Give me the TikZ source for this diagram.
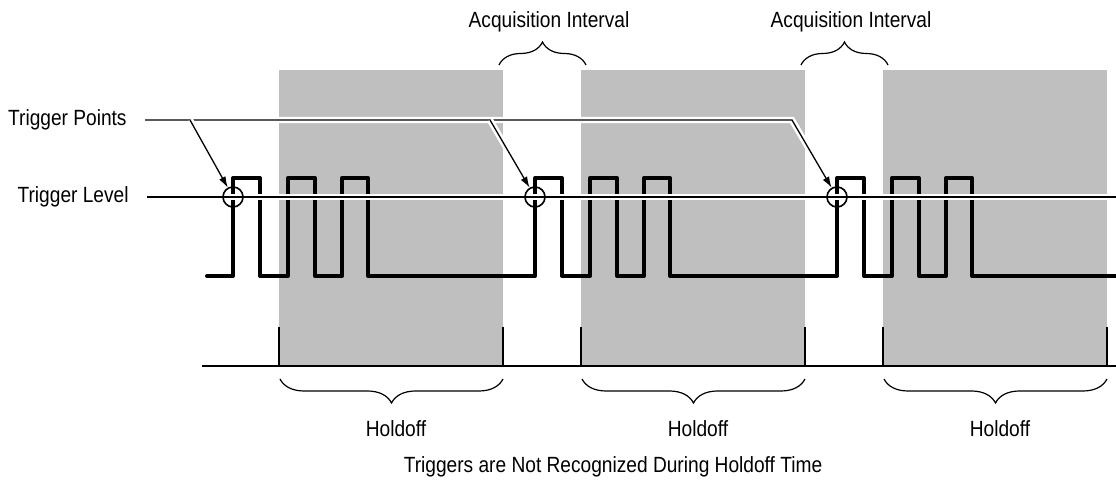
\documentclass[tikz,border=0pt]{standalone}
\usepackage{fontspec}
\setmainfont{Liberation Sans}[FakeStretch=0.87]
\usetikzlibrary{arrows.meta,decorations.pathreplacing}
\definecolor{holdgray}{RGB}{191,191,191}

\begin{document}
\begin{tikzpicture}[
  x=0.5pt, y=-0.5pt,
  font=\fontsize{11}{13}\selectfont,
  wave/.style={line width=2pt, line join=round, line cap=round},
  halo/.style={line width=#1, preaction={draw=white, line width=3.2pt, -, shorten >=2.5pt}},
  halo/.default=0.65pt,
  arr/.style={-{Latex[length=5.5pt, width=3.6pt]}},
  trigpt/.style={circle, draw, line width=0.8pt, minimum size=10pt, inner sep=0pt},
  sidelabel/.style={inner ysep=0pt, inner xsep=9pt, anchor=east},
  brc/.style={decorate, decoration={brace, amplitude=#1}, line width=0.6pt},
  holdtick/.style={line width=1pt}
]
  \useasboundingbox (0,0) rectangle (1116,485);

  \foreach \g in {0,302,604}
    \fill[holdgray] (279+\g,70) rectangle (503+\g,366);

  \draw[wave] (207,276) foreach \g in {0,302,604} {
      -- (233+\g,276) -- (233+\g,178) -- (260+\g,178) -- (260+\g,276)
      -- (288+\g,276) -- (288+\g,178) -- (315+\g,178) -- (315+\g,276)
      -- (342+\g,276) -- (342+\g,178) -- (368+\g,178) -- (368+\g,276)
    } -- (1116,276);

  \node[sidelabel] (tpts) at (145,120) {Trigger Points};
  \node[sidelabel] (tlvl) at (147,197) {Trigger Level};
  \coordinate (lvlend) at (1116,197);
  \draw[halo=0.85pt] (tlvl) -- (lvlend);

  \foreach \g [count=\i] in {0,302,604}
    \node[trigpt] (tp\i) at (233+\g,197) {};

  \coordinate (br1) at (190,120);
  \coordinate (br2) at (490,120);
  \coordinate (br3) at (792,120);
  \draw[halo, arr] (tpts) -- (br3) -- (tp3);
  \draw[halo, arr] (br1) -- (tp1);
  \draw[halo, arr] (br2) -- (tp2);

  \coordinate (bstart) at (202,366);
  \coordinate (bend) at (1116,366);
  \draw[line width=1pt] (bstart) -- (bend);
  \foreach \g in {0,302,604} {
    \draw[holdtick] (279+\g,327) -- (279+\g,366);
    \draw[holdtick] (503+\g,327) -- (503+\g,366);
  }

  \foreach \g [count=\i] in {0,302,604} {
    \draw[brc=12pt] (503+\g,379) -- (280+\g,379);
    \node[anchor=base] (hold\i) at (396+\g,437) {Holdoff};
  }
  \foreach \g [count=\i] in {0,302} {
    \draw[brc=11.5pt] (499+\g,65) -- (586+\g,65);
    \node[anchor=base] (acq\i) at (549+\g,28) {Acquisition Interval};
  }
  \node[anchor=base] (note) at (613,473) {Triggers are Not Recognized During Holdoff Time};
\end{tikzpicture}
\end{document}
